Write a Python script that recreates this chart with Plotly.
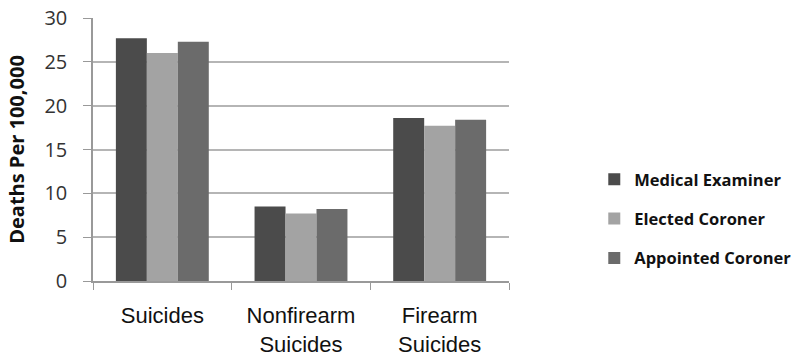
import plotly.graph_objects as go

categories = ["Suicides", "Nonfirearm<br>Suicides", "Firearm<br>Suicides"]
medical_examiner = [27.7, 8.5, 18.6]
elected_coroner = [26.0, 7.7, 17.7]
appointed_coroner = [27.3, 8.2, 18.4]
y_ticks = [0, 5, 10, 15, 20, 25, 30]

series = [
    ("Medical Examiner", medical_examiner, "#4b4b4b"),
    ("Elected Coroner", elected_coroner, "#a3a3a3"),
    ("Appointed Coroner", appointed_coroner, "#6b6b6b"),
]

fig = go.Figure()
for i, (name, vals, color) in enumerate(series):
    fig.add_trace(go.Bar(
        x=categories, y=vals, name=name,
        marker=dict(color=color, line=dict(width=0)),
        legendgroup=f"g{i}",
    ))

fig.update_layout(
    width=809, height=356,
    margin=dict(l=93, r=292, t=18, b=75),
    paper_bgcolor="white", plot_bgcolor="white",
    barmode="group", bargap=0.33, bargroupgap=0,
    font=dict(family="Liberation Sans, Arial, sans-serif", color="#111"),
    legend=dict(
        x=1.205, y=0.236, xanchor="left", yanchor="middle",
        font=dict(family="Open Sans, sans-serif", size=16.5, color="#111", weight="bold"),
        tracegroupgap=15, itemwidth=30,
        bgcolor="rgba(0,0,0,0)",
    ),
    showlegend=True,
)

fig.update_xaxes(
    automargin=False,
    showgrid=False, showline=True, linecolor="#999", linewidth=1.5,
    ticks="outside", tickson="boundaries", ticklen=7, tickcolor="#999",
    tickfont=dict(size=22, color="#111"),
    ticklabelstandoff=14,
)
fig.update_yaxes(
    automargin=False,
    range=[0, 30], tickvals=y_ticks,
    showgrid=True, gridcolor="#b5b5b5", gridwidth=2,
    showline=True, linecolor="#999", linewidth=1.5,
    ticks="outside", ticklen=8, tickcolor="#999",
    tickfont=dict(family="Open Sans, sans-serif", size=20, color="#333"),
    ticklabelstandoff=12,
    zeroline=False,
    title=dict(text="<b>Deaths Per 100,000</b>",
               font=dict(family="Open Sans, sans-serif", size=20, color="#111"),
               standoff=14),
)

fig.write_html("out.html")
